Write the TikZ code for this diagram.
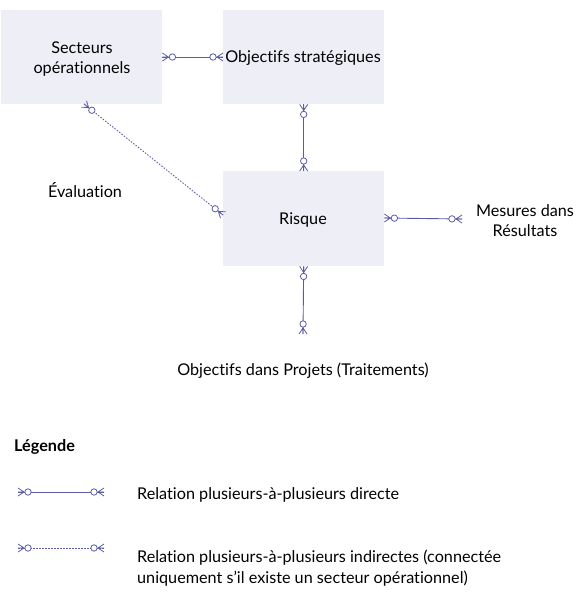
\documentclass[tikz,border=0pt]{standalone}
\usepackage{fontspec}
\setmainfont{Lato}[Ligatures={NoCommon}]
\usetikzlibrary{decorations.markings,calc}
\definecolor{boxfill}{HTML}{EEEEF6}
\definecolor{linec}{HTML}{5B5BA8}
\begin{document}
\begin{tikzpicture}[x=1pt,y=-1pt,
  every node/.style={font=\fontsize{16.2}{20}\selectfont, align=center, inner sep=0pt},
  entity/.style={draw=none, fill=boxfill, minimum width=161pt, minimum height=94pt, anchor=north west},
  erlink/.style={draw=linec, line width=0.9pt, postaction={decorate}, decoration={markings,
    mark=at position 0 with {\draw[linec,solid,line width=0.8pt] (6,0) -- (0,-4) (6,0) -- (0,4) (6,0)--(0,0); \draw[linec,solid,fill=white,line width=0.8pt] (10,0) circle (3.2);},
    mark=at position 1 with {\draw[linec,solid,line width=0.8pt] (-6,0) -- (0,-4) (-6,0) -- (0,4) (-6,0)--(0,0); \draw[linec,solid,fill=white,line width=0.8pt] (-10,0) circle (3.2);}}},
  indirect/.style={erlink, dash pattern=on 1.5pt off 1.5pt}
]
\useasboundingbox (0,0) rectangle (586,603);
\node[entity, minimum width=161pt] (sec) at (1,10) {};
\node at (82,59) (sect) {Secteurs\\opérationnels};
\node[entity] (obj) at (223,10) {};
\node at (303,58.5) (objt) {Objectifs stratégiques};
\node[entity, minimum height=95pt] (risk) at (223,171) {};
\node at (303,219.5) (riskt) {Risque};
\node at (85,190.5) (eval) {Évaluation};
\node at (525,221) (mes) {Mesures dans\\Résultats};
\node at (303,370.5) (proj) {Objectifs dans Projets (Traitements)};
\coordinate (mesend) at (462,219);
\coordinate (projend) at (303,334);
\coordinate (secbot) at (84,104);
\coordinate (riskleft) at (223,215);

\path[erlink] (sec.east|-0,57) -- (obj.west|-0,57);
\path[erlink] (obj.south) -- (risk.north);
\path[indirect] (secbot) -- (riskleft);
\path[erlink] (risk.east|-0,218) -- (mesend);
\path[erlink] (risk.south) -- (projend);

\node[anchor=west, font=\fontsize{16.2}{20}\selectfont\bfseries] (leg) at (14,447) {Légende};
\coordinate (l1a) at (18,492); \coordinate (l1b) at (104,492);
\coordinate (l2a) at (18,548); \coordinate (l2b) at (104,548);
\path[erlink] (l1a) -- (l1b);
\path[indirect] (l2a) -- (l2b);
\node[anchor=west] (lt1) at (137,495) {Relation plusieurs-à-plusieurs directe};
\node[anchor=west, align=left, font=\fontsize{16.2}{21}\selectfont] (lt2) at (137,568.5) {Relation plusieurs-à-plusieurs indirectes (connectée\\uniquement s'il existe un secteur opérationnel)};
\end{tikzpicture}
\end{document}
